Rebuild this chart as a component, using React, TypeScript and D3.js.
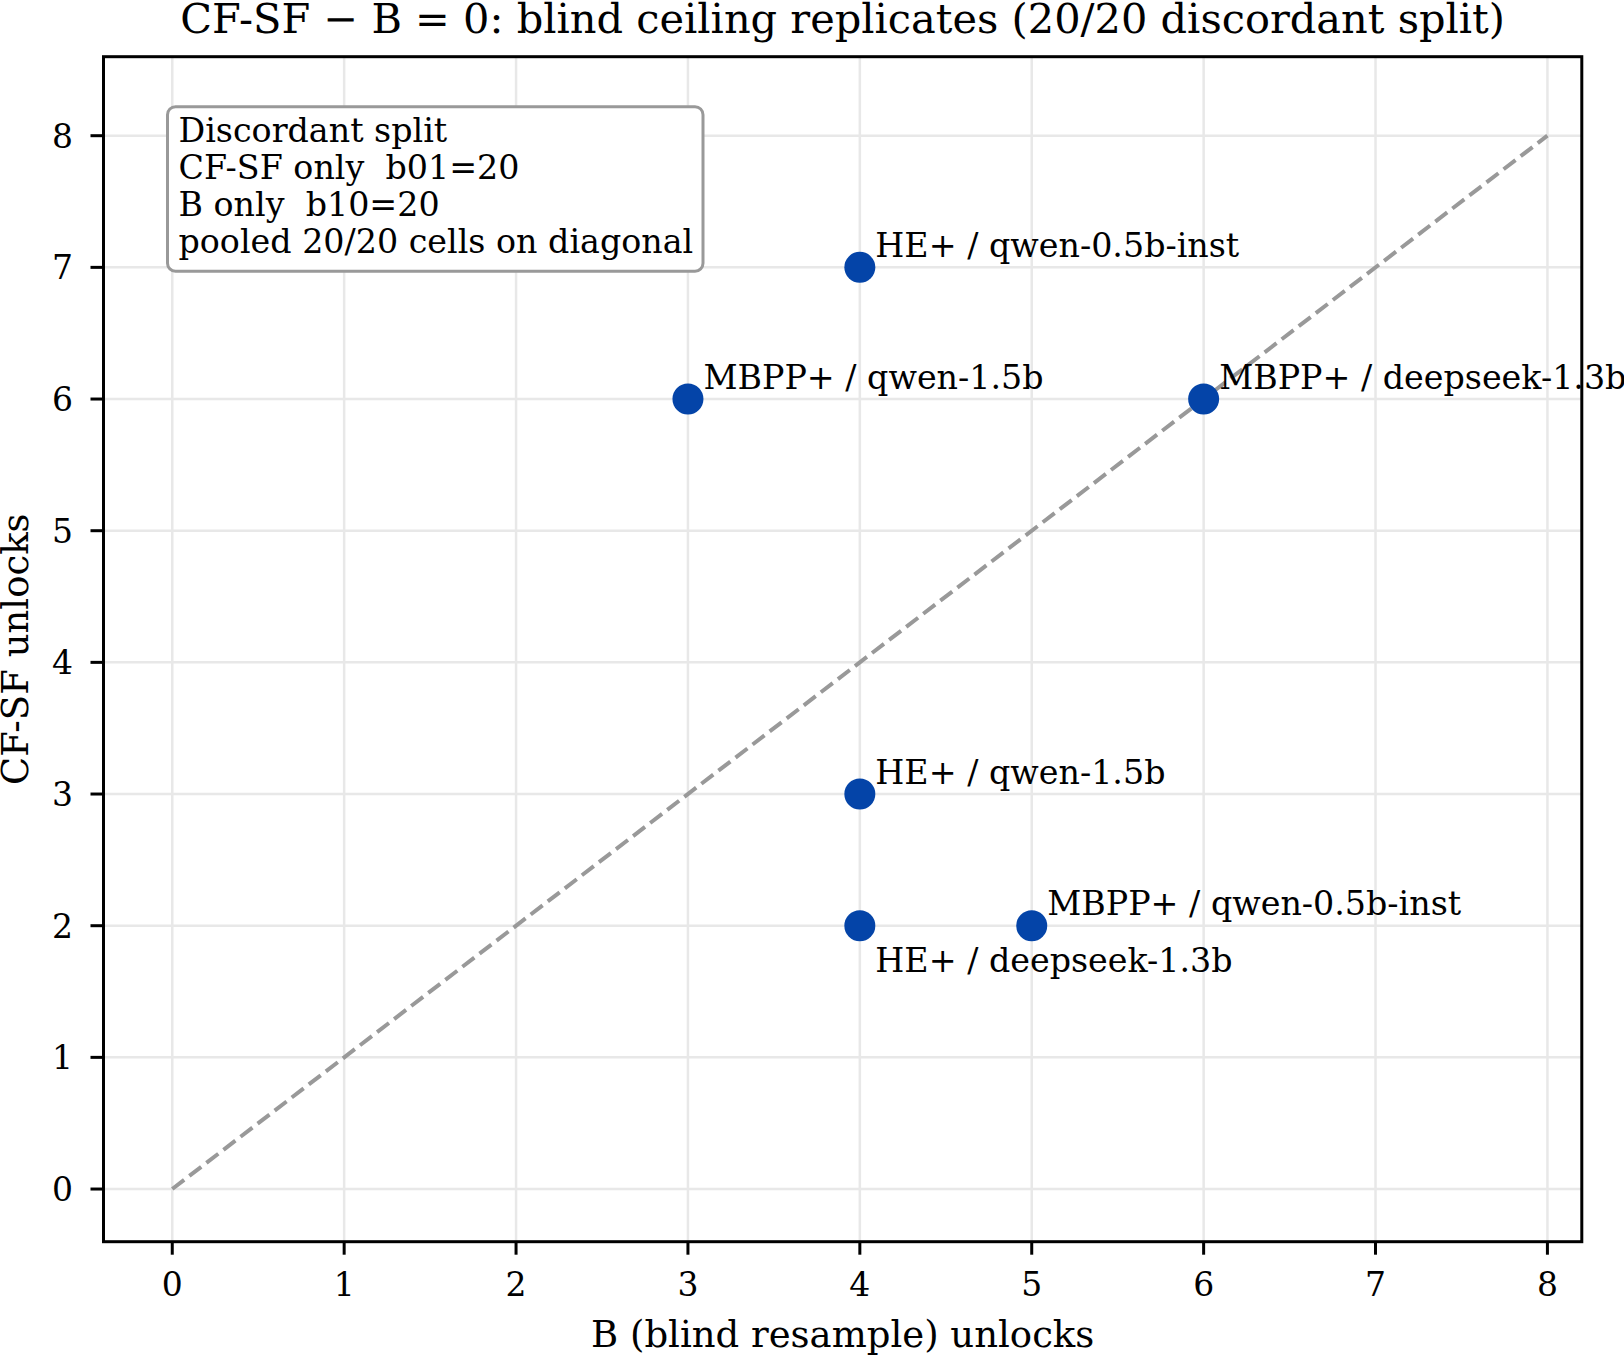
import * as d3 from "d3";
import React from "react";

// model/benchmark cells: blind-resample unlocks vs CF-SF unlocks
const cellNames = [
  "HE+ / qwen-0.5b-inst",
  "MBPP+ / qwen-1.5b",
  "MBPP+ / deepseek-1.3b",
  "HE+ / qwen-1.5b",
  "HE+ / deepseek-1.3b",
  "MBPP+ / qwen-0.5b-inst",
];
const blindUnlocks = [4, 3, 6, 4, 4, 5];
const cfsfUnlocks = [7, 6, 6, 3, 2, 2];
// labels that sit under their dot instead of above it
const labelBelow = new Set(["HE+ / deepseek-1.3b"]);

const xTicks = [0, 1, 2, 3, 4, 5, 6, 7, 8];
const yTicks = [0, 1, 2, 3, 4, 5, 6, 7, 8];
const diagonal = [0, 8];

const noteLines = [
  "Discordant split",
  "CF-SF only  b01=20",
  "B only  b10=20",
  "pooled 20/20 cells on diagonal",
];

const W = 1624;
const H = 1356;
const plot = { left: 103.5, right: 1581.8, top: 56.7, bottom: 1241.7 };
const FONT = "'DejaVu Serif', serif";
const DOT = "#0444a8";

export default function App() {
  const x = d3.scaleLinear().domain([-0.4, 8.2]).range([plot.left, plot.right]);
  const y = d3.scaleLinear().domain([-0.4, 8.6]).range([plot.bottom, plot.top]);

  const line = d3
    .line<number>()
    .x((d) => x(d))
    .y((d) => y(d));

  return (
    <svg
      width={W}
      height={H}
      viewBox={`0 0 ${W} ${H}`}
      style={{ position: "absolute", left: 0, top: 0, display: "block", background: "#fff" }}
      fontFamily={FONT}
    >
      <rect width={W} height={H} fill="#fff" />

      {/* grid */}
      <g stroke="#e8e8e8" strokeWidth={2.5}>
        {xTicks.map((t) => (
          <line key={"gx" + t} x1={x(t)} x2={x(t)} y1={plot.top} y2={plot.bottom} />
        ))}
        {yTicks.map((t) => (
          <line key={"gy" + t} x1={plot.left} x2={plot.right} y1={y(t)} y2={y(t)} />
        ))}
      </g>

      {/* y = x reference */}
      <path
        d={line(diagonal) || ""}
        fill="none"
        stroke="#999"
        strokeWidth={4}
        strokeDasharray="15 6.5"
      />

      {/* points */}
      {cellNames.map((name, i) => (
        <circle key={name} cx={x(blindUnlocks[i])} cy={y(cfsfUnlocks[i])} r={15.5} fill={DOT} />
      ))}

      {/* point labels */}
      <g fontSize={33.3} fill="#000">
        {cellNames.map((name, i) => {
          const below = labelBelow.has(name);
          return (
            <text
              key={"t" + name}
              x={x(blindUnlocks[i]) + 15.5}
              y={y(cfsfUnlocks[i]) + (below ? 46 : -10.5)}
            >
              {name}
            </text>
          );
        })}
      </g>

      {/* frame */}
      <rect
        x={plot.left}
        y={plot.top}
        width={plot.right - plot.left}
        height={plot.bottom - plot.top}
        fill="none"
        stroke="#000"
        strokeWidth={3}
      />

      {/* x ticks */}
      <g fontSize={33} textAnchor="middle">
        {xTicks.map((t) => (
          <g key={"xt" + t}>
            <line x1={x(t)} x2={x(t)} y1={plot.bottom} y2={plot.bottom + 13} stroke="#000" strokeWidth={3} />
            <text x={x(t)} y={1296}>{t}</text>
          </g>
        ))}
      </g>

      {/* y ticks */}
      <g fontSize={33} textAnchor="end">
        {yTicks.map((t) => (
          <g key={"yt" + t}>
            <line x1={plot.left - 13} x2={plot.left} y1={y(t)} y2={y(t)} stroke="#000" strokeWidth={3} />
            <text x={73} y={y(t)} dy="0.36em">{t}</text>
          </g>
        ))}
      </g>

      {/* note box */}
      <rect
        x={167.5}
        y={106.7}
        width={535.5}
        height={164.5}
        rx={8}
        fill="#fff"
        stroke="#999"
        strokeWidth={3}
      />
      <g fontSize={33.3}>
        {noteLines.map((s, i) => (
          <text key={"n" + i} x={178.5} y={141.7 + i * 37} style={{ whiteSpace: "pre" }}>
            {s}
          </text>
        ))}
      </g>

      {/* axis labels and title */}
      <text x={(plot.left + plot.right) / 2} y={1346.5} fontSize={37} textAnchor="middle">
        B (blind resample) unlocks
      </text>
      <text
        transform={`translate(${14.5 + 13}, ${(plot.top + plot.bottom) / 2}) rotate(-90)`}
        fontSize={37}
        textAnchor="middle"
      >
        CF-SF unlocks
      </text>
      <text x={(plot.left + plot.right) / 2} y={33} fontSize={41.5} textAnchor="middle">
        CF-SF − B = 0: blind ceiling replicates (20/20 discordant split)
      </text>
    </svg>
  );
}
